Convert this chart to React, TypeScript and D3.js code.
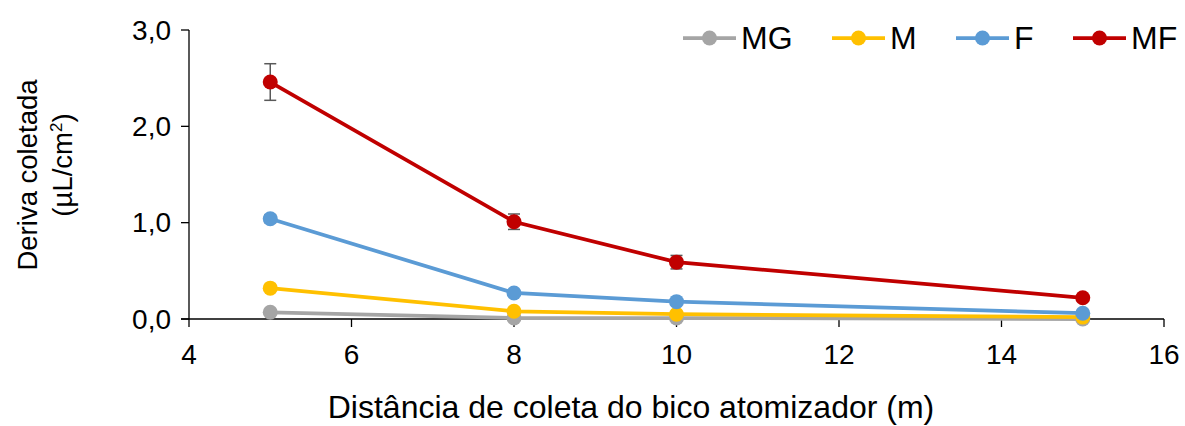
import * as d3 from "d3";

const WIDTH = 1185;
const HEIGHT = 426;
const MARGIN = { top: 30, right: 21, bottom: 107, left: 189 };

const distances = [5, 8, 10, 15];
const seriesNames = ["MG", "M", "F", "MF"];
const seriesColors = ["#A5A5A5", "#FFC000", "#5B9BD5", "#C00000"];
const mgValues = [0.07, 0.01, 0.01, 0.0];
const mValues = [0.32, 0.08, 0.05, 0.02];
const fValues = [1.04, 0.27, 0.18, 0.06];
const mfValues = [2.46, 1.01, 0.59, 0.22];
const mfErrors = [0.19, 0.08, 0.07, 0.02];
const fErrors = [0.04, 0.02, 0.02, 0.01];
const xTicks = [4, 6, 8, 10, 12, 14, 16];
const yTicks = [0, 1, 2, 3];

const FONT = "Liberation Sans, Arial, sans-serif";

export default function App() {
  const boundsWidth = WIDTH - MARGIN.left - MARGIN.right;
  const boundsHeight = HEIGHT - MARGIN.top - MARGIN.bottom;

  const xScale = d3.scaleLinear().domain([4, 16]).range([0, boundsWidth]);
  const yScale = d3.scaleLinear().domain([0, 3]).range([boundsHeight, 0]);

  const series = [
    { name: seriesNames[0], color: seriesColors[0], values: mgValues, errors: null },
    { name: seriesNames[1], color: seriesColors[1], values: mValues, errors: null },
    { name: seriesNames[2], color: seriesColors[2], values: fValues, errors: fErrors },
    { name: seriesNames[3], color: seriesColors[3], values: mfValues, errors: mfErrors },
  ];

  const line = d3
    .line<number>()
    .x((_, i) => xScale(distances[i]))
    .y((d) => yScale(d));

  const fmt = (v: number) => v.toFixed(1).replace(".", ",");

  // legend positions (line start)
  const legendX = [683, 832, 956, 1073];

  return (
    <svg
      width={WIDTH}
      height={HEIGHT}
      style={{ position: "absolute", left: 0, top: 0, background: "white" }}
      fontFamily={FONT}
    >
      <g transform={`translate(${MARGIN.left},${MARGIN.top})`}>
        {/* axes */}
        <line x1={0} x2={0} y1={0} y2={boundsHeight} stroke="black" strokeWidth={1.3} />
        <line x1={-8} x2={boundsWidth} y1={boundsHeight} y2={boundsHeight} stroke="black" strokeWidth={1.3} />
        {yTicks.map((t) => (
          <g key={t}>
            <line x1={-8} x2={0} y1={yScale(t)} y2={yScale(t)} stroke="black" strokeWidth={1.3} />
            <text
              x={-18}
              y={yScale(t)}
              textAnchor="end"
              dominantBaseline="central"
              fontSize={28}
              fill="#000"
            >
              {fmt(t)}
            </text>
          </g>
        ))}
        {xTicks.map((t) => (
          <g key={t}>
            <line
              x1={xScale(t)}
              x2={xScale(t)}
              y1={boundsHeight}
              y2={boundsHeight + 8}
              stroke="black"
              strokeWidth={1.3}
            />
            <text
              x={xScale(t)}
              y={boundsHeight + 45}
              textAnchor="middle"
              fontSize={28}
              fill="#000"
            >
              {t}
            </text>
          </g>
        ))}

        {/* lines */}
        {series.map((s) => (
          <path
            key={s.name}
            d={line(s.values) ?? ""}
            fill="none"
            stroke={s.color}
            strokeWidth={3.75}
          />
        ))}
        {/* error bars + markers */}
        {series.map((s) => (
          <g key={s.name}>
            {s.errors &&
              s.values.map((v, i) => {
                const x = xScale(distances[i]);
                const y0 = yScale(v - s.errors![i]);
                const y1 = yScale(v + s.errors![i]);
                return (
                  <g key={i} stroke="#595959" strokeWidth={1.5}>
                    <line x1={x} x2={x} y1={y0} y2={y1} />
                    <line x1={x - 6} x2={x + 6} y1={y0} y2={y0} />
                    <line x1={x - 6} x2={x + 6} y1={y1} y2={y1} />
                  </g>
                );
              })}
            {s.values.map((v, i) => (
              <circle
                key={i}
                cx={xScale(distances[i])}
                cy={yScale(v)}
                r={7.5}
                fill={s.color}
              />
            ))}
          </g>
        ))}
      </g>

      {/* legend */}
      {series.map((s, i) => (
        <g key={s.name} transform={`translate(${legendX[i]},38)`}>
          <line x1={0} x2={53} y1={0} y2={0} stroke={s.color} strokeWidth={3.75} />
          <circle cx={26.5} cy={0} r={7.5} fill={s.color} />
          <text x={58} y={11} fontSize={32} fill="#000">
            {s.name}
          </text>
        </g>
      ))}

      {/* axis titles */}
      <text x={631} y={418} textAnchor="middle" fontSize={32} fill="#000">
        Distância de coleta do bico atomizador (m)
      </text>
      <text transform="translate(37,175) rotate(-90)" textAnchor="middle" fontSize={27.5} fill="#000">
        Deriva coletada
      </text>
      <text transform="translate(72,165) rotate(-90)" textAnchor="middle" fontSize={27.5} fill="#000">
        (µL/cm<tspan fontSize={17} dy={-10}>2</tspan>
        <tspan dy={10}>)</tspan>
      </text>
    </svg>
  );
}
